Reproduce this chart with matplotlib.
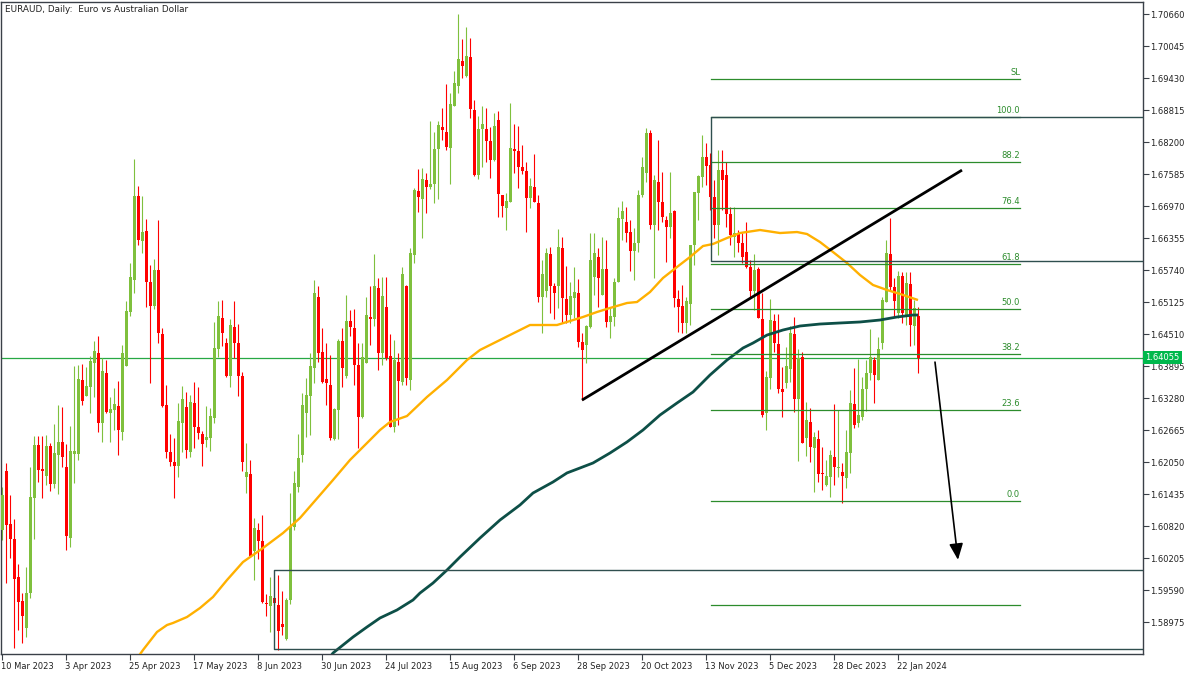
import matplotlib
matplotlib.use('Agg')
import matplotlib.pyplot as plt
import matplotlib.transforms as mtransforms
import numpy as np

# ---------------- data ----------------
opens = [1.6074,1.6188,1.6086,1.6057,1.5984,1.5938,1.5886,1.5953,1.6136,1.6238,
         1.6192,1.6178,1.6236,1.6163,1.6219,1.6244,1.6195,1.6059,1.6220,1.6220,
         1.6363,1.6332,1.6349,1.6395,1.6415,1.6280,1.6376,1.6299,1.6305,1.6313,
         1.6263,1.6390,1.6493,1.6555,1.6716,1.6630,1.6649,1.6551,1.6505,1.6574,
         1.6451,1.6315,1.6224,1.6205,1.6197,1.6280,1.6311,1.6224,1.6318,1.6272,
         1.6259,1.6247,1.6251,1.6290,1.6422,1.6482,1.6434,1.6370,1.6464,1.6434,
         1.6370,1.6176,1.6182,1.6034,1.6074,1.6053,1.5934,1.5928,1.5944,1.5930,
         1.5894,1.5865,1.5940,1.6080,1.6157,1.6219,1.6299,1.6332,1.6386,1.6522,
         1.6416,1.6365,1.6353,1.6249,1.6305,1.6438,1.6370,1.6476,1.6463,1.6391,
         1.6292,1.6395,1.6484,1.6480,1.6539,1.6415,1.6503,1.6409,1.6272,1.6397,
         1.6359,1.6543,1.6363,1.6603,1.6726,1.6710,1.6747,1.6734,1.6739,1.6807,
         1.6849,1.6839,1.6809,1.6889,1.6928,1.6976,1.6947,1.6983,1.6882,1.6757,
         1.6845,1.6845,1.6822,1.6785,1.6862,1.6718,1.6693,1.6705,1.6807,1.6803,
         1.6772,1.6764,1.6712,1.6734,1.6703,1.6522,1.6534,1.6605,1.6543,1.6543,
         1.6616,1.6518,1.6488,1.6520,1.6530,1.6436,1.6430,1.6464,1.6561,1.6599,
         1.6526,1.6576,1.6474,1.6484,1.6551,1.6672,1.6666,1.6647,1.6610,1.6626,
         1.6718,1.6760,1.6837,1.6661,1.6743,1.6705,1.6670,1.6657,1.6687,1.6518,
         1.6505,1.6472,1.6509,1.6622,1.6722,1.6753,1.6791,1.6776,1.6714,1.6661,
         1.6766,1.6757,1.6682,1.6637,1.6645,1.6626,1.6609,1.6580,1.6534,1.6576,
         1.6480,1.6299,1.6366,1.6476,1.6432,1.6345,1.6357,1.6384,1.6451,1.6326,
         1.6407,1.6251,1.6282,1.6232,1.6249,1.6184,1.6161,1.6176,1.6215,1.6194,
         1.6186,1.6174,1.6222,1.6317,1.6280,1.6292,1.6345,1.6376,1.6401,1.6363,
         1.6434,1.6513,1.6605,1.6541,1.6491,1.6563,1.6488,1.6547,1.6466,1.6486]
highs = [1.6157,1.6203,1.6142,1.6095,1.6009,1.5953,1.6003,1.6195,1.6255,1.6255,
         1.6255,1.6257,1.6242,1.6278,1.6315,1.6311,1.6240,1.6274,1.6390,1.6391,
         1.6393,1.6388,1.6409,1.6438,1.6447,1.6405,1.6401,1.6330,1.6347,1.6361,
         1.6430,1.6514,1.6588,1.6787,1.6735,1.6716,1.6672,1.6584,1.6595,1.6670,
         1.6463,1.6353,1.6259,1.6251,1.6318,1.6351,1.6340,1.6334,1.6359,1.6349,
         1.6265,1.6313,1.6309,1.6474,1.6514,1.6516,1.6443,1.6480,1.6514,1.6470,
         1.6378,1.6242,1.6209,1.6097,1.6088,1.6103,1.5951,1.5984,1.5946,1.5988,
         1.5957,1.5944,1.6145,1.6188,1.6259,1.6338,1.6366,1.6415,1.6555,1.6543,
         1.6463,1.6434,1.6411,1.6309,1.6441,1.6463,1.6526,1.6497,1.6499,1.6434,
         1.6434,1.6522,1.6543,1.6605,1.6559,1.6561,1.6561,1.6451,1.6440,1.6415,
         1.6580,1.6545,1.6616,1.6732,1.6768,1.6770,1.6760,1.6860,1.6839,1.6860,
         1.6885,1.6932,1.6914,1.6957,1.7066,1.7018,1.7041,1.7020,1.6901,1.6870,
         1.6889,1.6885,1.6849,1.6876,1.6880,1.6718,1.6722,1.6895,1.6855,1.6851,
         1.6814,1.6782,1.6751,1.6797,1.6718,1.6593,1.6616,1.6618,1.6549,1.6653,
         1.6637,1.6582,1.6551,1.6580,1.6557,1.6453,1.6468,1.6645,1.6645,1.6616,
         1.6637,1.6632,1.6503,1.6559,1.6695,1.6707,1.6695,1.6670,1.6655,1.6728,
         1.6791,1.6847,1.6843,1.6757,1.6824,1.6762,1.6678,1.6762,1.6689,1.6536,
         1.6546,1.6522,1.6622,1.6724,1.6757,1.6833,1.6818,1.6799,1.6747,1.6805,
         1.6805,1.6782,1.6695,1.6695,1.6651,1.6645,1.6666,1.6593,1.6605,1.6580,
         1.6530,1.6380,1.6518,1.6489,1.6489,1.6388,1.6426,1.6466,1.6484,1.6422,
         1.6416,1.6320,1.6309,1.6263,1.6267,1.6234,1.6209,1.6228,1.6317,1.6305,
         1.6203,1.6267,1.6343,1.6386,1.6403,1.6368,1.6401,1.6461,1.6407,1.6445,
         1.6522,1.6632,1.6674,1.6559,1.6572,1.6570,1.6570,1.6570,1.6516,1.6503]
lows = [1.6055,1.5972,1.6021,1.5848,1.5882,1.5857,1.5869,1.5944,1.6057,1.6167,
        1.6136,1.6161,1.6149,1.6155,1.6144,1.6195,1.6036,1.6042,1.6165,1.6209,
        1.6315,1.6332,1.6299,1.6330,1.6263,1.6244,1.6299,1.6244,1.6267,1.6219,
        1.6247,1.6390,1.6486,1.6530,1.6622,1.6607,1.6503,1.6357,1.6499,1.6434,
        1.6311,1.6213,1.6197,1.6136,1.6176,1.6224,1.6213,1.6215,1.6232,1.6249,
        1.6197,1.6234,1.6226,1.6280,1.6407,1.6428,1.6368,1.6349,1.6405,1.6332,
        1.6188,1.6145,1.6022,1.5978,1.6019,1.5934,1.5909,1.5878,1.5930,1.5844,
        1.5873,1.5863,1.5932,1.6074,1.6147,1.6205,1.6253,1.6257,1.6357,1.6397,
        1.6357,1.6315,1.6247,1.6247,1.6249,1.6349,1.6366,1.6447,1.6353,1.6232,
        1.6290,1.6395,1.6430,1.6466,1.6382,1.6391,1.6401,1.6272,1.6263,1.6276,
        1.6353,1.6353,1.6343,1.6588,1.6686,1.6636,1.6684,1.6730,1.6703,1.6710,
        1.6824,1.6805,1.6739,1.6889,1.6914,1.6943,1.6945,1.6866,1.6755,1.6749,
        1.6772,1.6782,1.6751,1.6784,1.6676,1.6676,1.6651,1.6705,1.6760,1.6732,
        1.6759,1.6647,1.6693,1.6705,1.6513,1.6453,1.6522,1.6491,1.6480,1.6501,
        1.6472,1.6472,1.6472,1.6482,1.6426,1.6324,1.6395,1.6463,1.6526,1.6503,
        1.6526,1.6464,1.6443,1.6466,1.6551,1.6632,1.6628,1.6572,1.6555,1.6609,
        1.6714,1.6743,1.6653,1.6559,1.6651,1.6666,1.6589,1.6636,1.6503,1.6455,
        1.6453,1.6453,1.6468,1.6584,1.6670,1.6734,1.6737,1.6689,1.6636,1.6603,
        1.6689,1.6657,1.6622,1.6599,1.6609,1.6588,1.6578,1.6522,1.6497,1.6482,
        1.6292,1.6267,1.6345,1.6416,1.6338,1.6292,1.6347,1.6359,1.6301,1.6207,
        1.6242,1.6217,1.6205,1.6147,1.6167,1.6151,1.6159,1.6138,1.6161,1.6176,
        1.6126,1.6155,1.6184,1.6270,1.6272,1.6286,1.6303,1.6363,1.6318,1.6363,
        1.6422,1.6513,1.6534,1.6484,1.6482,1.6472,1.6468,1.6428,1.6430,1.6376]
closes = [1.6142,1.6084,1.6057,1.5980,1.5936,1.5909,1.5953,1.6138,1.6238,1.6190,
          1.6188,1.6236,1.6163,1.6222,1.6244,1.6215,1.6063,1.6226,1.6226,1.6365,
          1.6322,1.6351,1.6399,1.6418,1.6280,1.6380,1.6301,1.6307,1.6317,1.6267,
          1.6415,1.6495,1.6561,1.6716,1.6632,1.6647,1.6551,1.6505,1.6574,1.6453,
          1.6313,1.6224,1.6205,1.6197,1.6284,1.6326,1.6228,1.6320,1.6272,1.6261,
          1.6240,1.6253,1.6293,1.6424,1.6486,1.6453,1.6370,1.6468,1.6434,1.6370,
          1.6205,1.6186,1.6024,1.6078,1.6053,1.5936,1.5932,1.5948,1.5934,1.5880,
          1.5888,1.5940,1.6082,1.6165,1.6213,1.6315,1.6334,1.6390,1.6530,1.6415,
          1.6359,1.6357,1.6251,1.6307,1.6438,1.6386,1.6476,1.6464,1.6391,1.6292,
          1.6407,1.6488,1.6480,1.6543,1.6415,1.6524,1.6405,1.6272,1.6401,1.6361,
          1.6566,1.6366,1.6607,1.6728,1.6714,1.6749,1.6734,1.6739,1.6807,1.6853,
          1.6843,1.6810,1.6893,1.6933,1.6980,1.6966,1.6985,1.6883,1.6757,1.6845,
          1.6855,1.6822,1.6785,1.6851,1.6720,1.6697,1.6707,1.6809,1.6803,1.6772,
          1.6764,1.6712,1.6735,1.6705,1.6522,1.6566,1.6607,1.6543,1.6530,1.6618,
          1.6520,1.6488,1.6524,1.6532,1.6436,1.6420,1.6466,1.6593,1.6607,1.6559,
          1.6576,1.6474,1.6486,1.6551,1.6674,1.6687,1.6645,1.6610,1.6626,1.6718,
          1.6772,1.6837,1.6661,1.6747,1.6705,1.6676,1.6657,1.6684,1.6520,1.6503,
          1.6472,1.6514,1.6622,1.6724,1.6755,1.6791,1.6774,1.6714,1.6661,1.6766,
          1.6747,1.6682,1.6641,1.6645,1.6626,1.6599,1.6580,1.6534,1.6574,1.6482,
          1.6295,1.6368,1.6478,1.6434,1.6345,1.6340,1.6390,1.6453,1.6326,1.6405,
          1.6242,1.6286,1.6234,1.6253,1.6182,1.6182,1.6178,1.6219,1.6195,1.6195,
          1.6178,1.6224,1.6318,1.6276,1.6295,1.6345,1.6376,1.6407,1.6372,1.6422,
          1.6516,1.6607,1.6541,1.6514,1.6563,1.6491,1.6549,1.6468,1.6501,1.64055]

date_tick_bars = [0, 16, 32, 48, 64, 80, 96, 112, 128, 144, 160, 176, 192, 208, 224]
date_tick_labels = ['10 Mar 2023', '3 Apr 2023', '25 Apr 2023', '17 May 2023', '8 Jun 2023',
                    '30 Jun 2023', '24 Jul 2023', '15 Aug 2023', '6 Sep 2023', '28 Sep 2023',
                    '20 Oct 2023', '13 Nov 2023', '5 Dec 2023', '28 Dec 2023', '22 Jan 2024']

# fast moving average (orange), sampled along the drawn curve
ma_fast_bars = [33.5, 35.25, 38.75, 41.25, 42.75, 46.25, 49.5, 52.75, 56.25, 60.25, 65.25, 70.25,
                74.5, 79.5, 82.75, 87, 91.25, 94.5, 97, 101.25, 106.25, 111.25, 116.25, 119.5,
                124.5, 129.5, 132, 138.75, 142, 145.25, 148.75, 152, 156.25, 158.75, 162,
                165.25, 168.75, 172, 175.25, 177.75, 181.25, 184.5, 189.5, 194.5, 198.75,
                201.25, 204.5, 207.75, 211.25, 214.5, 217.75, 221.25, 224.5, 229]
ma_fast_vals = [1.58245, 1.58437, 1.58783, 1.58917, 1.58956, 1.59071, 1.59244, 1.59456, 1.59782,
                1.60128, 1.60397, 1.60685, 1.60974, 1.61416, 1.61704, 1.62089, 1.62415, 1.62665,
                1.62819, 1.62934, 1.63300, 1.63626, 1.64010, 1.64203, 1.64395, 1.64587, 1.64683,
                1.64683, 1.64760, 1.64837, 1.64933, 1.65010, 1.65106, 1.65125, 1.65317, 1.65587,
                1.65798, 1.65990, 1.66201, 1.66240, 1.66355, 1.66451, 1.66509, 1.66451, 1.66470,
                1.66432, 1.66278, 1.66086, 1.65875, 1.65644, 1.65452, 1.65356, 1.65280, 1.65163]
# slow moving average (dark teal)
ma_slow_bars = [81.5, 82.75, 87.75, 91.25, 94.5, 98.75, 102.75, 104.5, 107.75, 111.25, 114.5,
                119.5, 124.5, 129.5, 132.75, 137.75, 141.25, 144.5, 147.75, 152, 156.25, 160.25,
                164.5, 168.75, 172.75, 177, 181.25, 185.25, 187.75, 191.25, 195.25, 199.5,
                204.5, 209.5, 214.5, 219.5, 223.75, 227.75, 229]
ma_slow_vals = [1.58245, 1.58379, 1.58686, 1.58879, 1.59052, 1.59206, 1.59398, 1.59532, 1.59724,
                1.59974, 1.60224, 1.60589, 1.60935, 1.61224, 1.61454, 1.61666, 1.61840, 1.61935,
                1.62031, 1.62223, 1.62435, 1.62665, 1.62953, 1.63184, 1.63395, 1.63722, 1.64010,
                1.64241, 1.64337, 1.64490, 1.64587, 1.64664, 1.64702, 1.64722, 1.64741, 1.64779,
                1.64837, 1.64875, 1.64875]

fib_zero = 1.6130
fib_hundred = 1.6868
fib_levels = [110.0, 100.0, 88.2, 76.4, 61.8, 50.0, 38.2, 23.6, 0.0, -27.2]
fib_labels = ['SL', '100.0', '88.2', '76.4', '61.8', '50.0', '38.2', '23.6', '0.0', '']
fib_span = [177.25, 254.5]

zone_upper = [177.25, 1.6591, 1.6868]   # start bar, bottom, top
zone_lower = [68.0, 1.5845, 1.5997]

trend_bars = [145, 240]
trend_prices = [1.6324, 1.6766]
arrow_bars = [233.25, 239.0]
arrow_prices = [1.6397, 1.6017]

last_price = 1.64055
ytick_values = [1.70660 - 0.00615 * k for k in range(20)]

# ---------------- drawing ----------------
W, H = 1200, 675
fig = plt.figure(figsize=(W / 100, H / 100), dpi=100)
fig.patch.set_facecolor('white')
ax = fig.add_axes([1 / W, 21 / H, 1142 / W, 652 / H])
ax.set_facecolor('white')
ax.set_xlim(-0.25, 285.25)
ax.set_ylim(1.5836, 1.70891)

GREEN = '#7fc03d'
RED = '#ff0000'
o = np.array(opens); h = np.array(highs); l = np.array(lows); c = np.array(closes)
x = np.arange(len(o))
up = c >= o
cols = np.where(up, GREEN, RED)

ax.axhline(last_price, color='#27a844', lw=0.9, zorder=1)

ax.vlines(x, l, h, colors=cols, lw=0.8, zorder=2)
body_bottom = np.minimum(o, c)
body_h = np.maximum(np.abs(c - o), 0.00019)
ax.bar(x, body_h, bottom=body_bottom, width=0.75, color=cols, linewidth=0, zorder=3)

ax.plot(ma_fast_bars, ma_fast_vals, color='#ffb000', lw=1.7, zorder=4, solid_capstyle='butt')
ax.plot(ma_slow_bars, ma_slow_vals, color='#0d4f47', lw=2.0, zorder=4, solid_capstyle='butt')

# Fibonacci levels
FIBC = '#2c8c2c'
for lev, lab in zip(fib_levels, fib_labels):
    p = fib_zero + (fib_hundred - fib_zero) * lev / 100.0
    ax.plot(fib_span, [p, p], color=FIBC, lw=0.9, zorder=5)
    if lab:
        ax.annotate(lab, xy=(fib_span[1], p), xytext=(0, 1.5), textcoords='offset points',
                    ha='right', va='bottom', fontsize=6, color=FIBC, zorder=6)

# rectangles (zones)
RC = '#2f4f4f'
for zs in (zone_upper, zone_lower):
    x0, lo, hi = zs
    ax.plot([285.25, x0, x0, 285.25], [hi, hi, lo, lo], color=RC, lw=1.0, zorder=5,
            clip_on=True)

# trend line and arrow
ax.plot(trend_bars, trend_prices, color='black', lw=2.0, zorder=6, solid_capstyle='butt')
ax.annotate('', xy=(arrow_bars[1], arrow_prices[1]), xytext=(arrow_bars[0], arrow_prices[0]),
            arrowprops=dict(arrowstyle='-|>,head_length=0.7,head_width=0.3', color='black',
                            lw=1.2, mutation_scale=14, shrinkA=0, shrinkB=0), zorder=6)

# axes styling
for s in ax.spines.values():
    s.set_color('#3a4048')
    s.set_linewidth(1.0)

ax.yaxis.tick_right()
ax.set_yticks(ytick_values)
ax.set_yticklabels(['%.5f' % v for v in ytick_values])
ax.tick_params(axis='y', length=4, width=0.8, color='#3a4048', pad=1, labelsize=6,
               labelcolor='#222222', direction='out')
ax.set_xticks(date_tick_bars)
ax.set_xticklabels(date_tick_labels, ha='left')
ax.tick_params(axis='x', length=4, width=0.8, color='#3a4048', pad=2, labelsize=6,
               labelcolor='#222222', direction='out')
for t in ax.get_xticklabels():
    t.set_transform(t.get_transform() + mtransforms.ScaledTranslation(-1 / 100, 0, fig.dpi_scale_trans))

# current price tag
trans = mtransforms.blended_transform_factory(ax.transAxes, ax.transData)
ax.text(1.0022, last_price, '%.5f' % last_price, transform=trans, ha='left', va='center',
        fontsize=6, color='white', clip_on=False, zorder=10,
        bbox=dict(boxstyle='square,pad=0.25', fc='#00b84c', ec='none'))

fig.text(5 / W, 1 - 9 / H, 'EURAUD, Daily:  Euro vs Australian Dollar', fontsize=6.4,
         color='#222222', ha='left', va='center')

fig.savefig('out.png', dpi=100, facecolor='white')
